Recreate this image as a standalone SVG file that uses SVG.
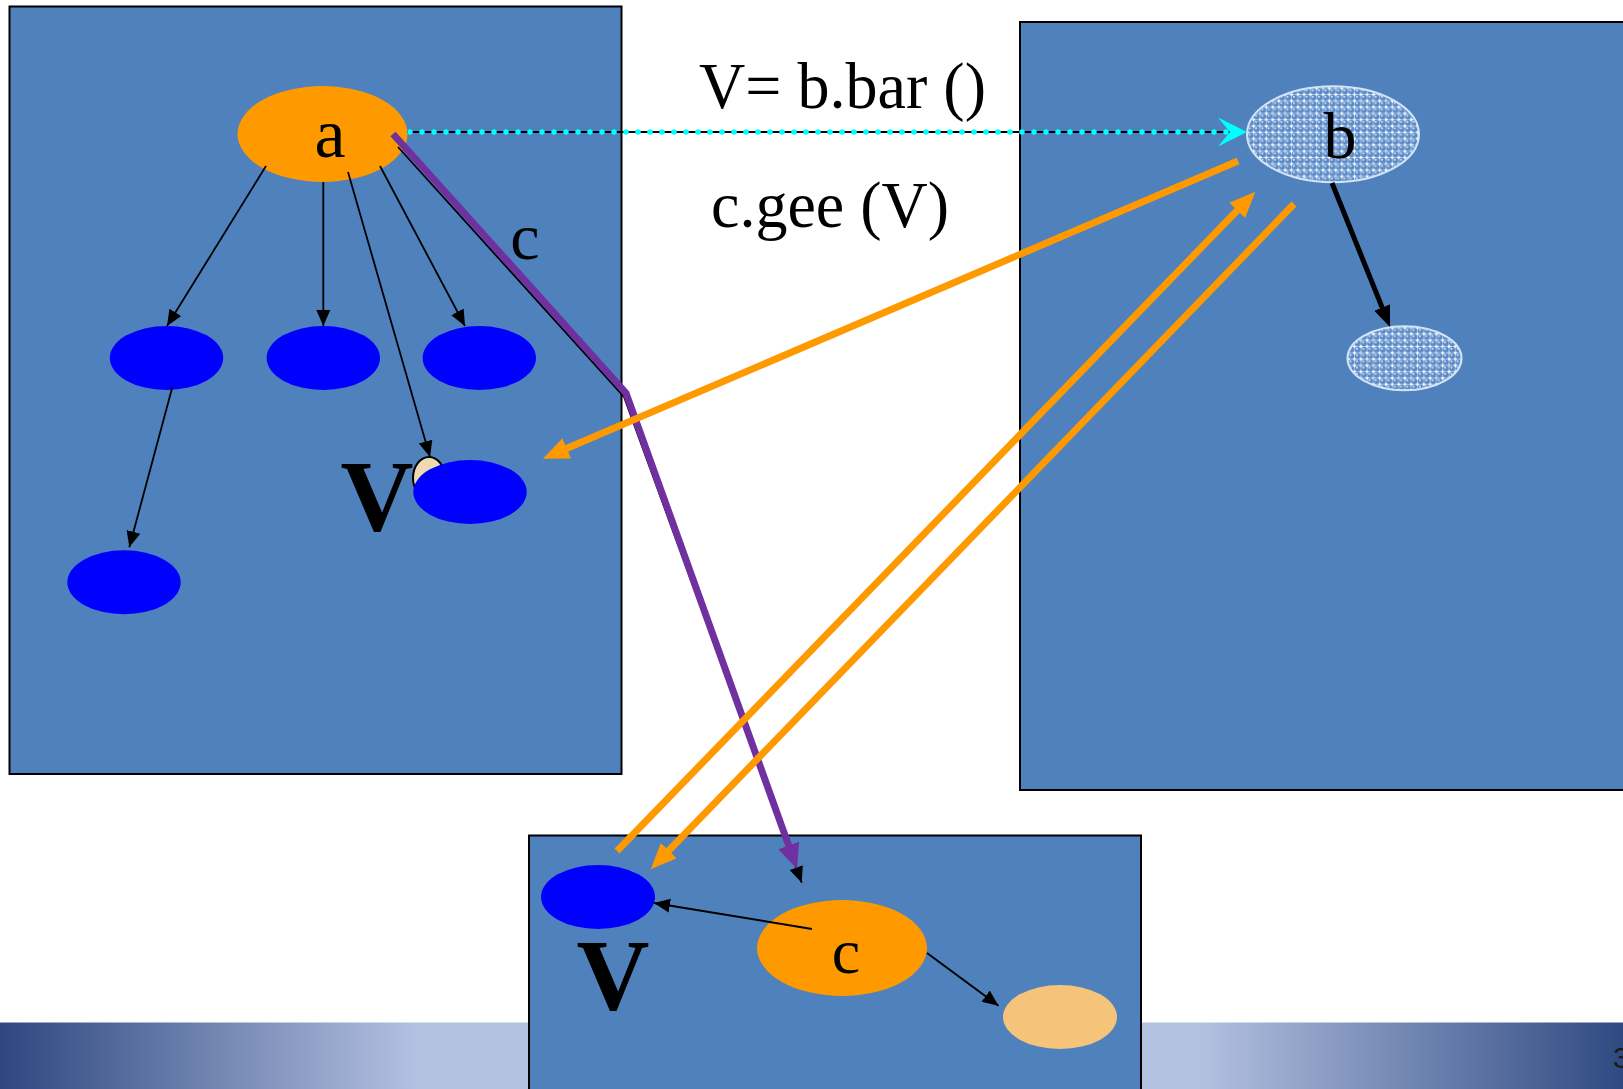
<svg xmlns="http://www.w3.org/2000/svg" width="1623" height="1089" viewBox="0 0 1623 1089">
<style>
.box{fill:#4F81BD;stroke:#000;stroke-width:2}
.blue{fill:#0000FF}
.org{fill:#FF9900}
.serif{font-family:"Liberation Serif","Times New Roman",serif;fill:#000}
.thin{fill:none;stroke:#000;stroke-width:1.8}
.oline{fill:none;stroke:#FF9900;stroke-width:7}
</style>
<defs>
<linearGradient id="foot" x1="0" y1="0" x2="1" y2="0">
<stop offset="0" stop-color="#2E4780"/>
<stop offset="0.257" stop-color="#B3C1E1"/>
<stop offset="0.739" stop-color="#B3C1E1"/>
<stop offset="1" stop-color="#2F4A82"/>
</linearGradient>
<pattern id="chk" patternUnits="userSpaceOnUse" width="12.6" height="12.6">
<rect width="12.6" height="12.6" fill="#b9d0ec"/>
<rect x="5.3" y="0" width="2" height="2" fill="#fff"/>
<rect x="0" y="5.3" width="2" height="2" fill="#fff"/>
<rect x="11.6" y="5.3" width="1" height="2" fill="#fff"/>
<rect x="5.3" y="11.6" width="2" height="1" fill="#fff"/>
<rect x="5.3" y="5.3" width="2" height="2" fill="#fff"/>
<circle cx="3.15" cy="3.15" r="2.9" fill="#5B8AC6"/>
<circle cx="9.45" cy="3.15" r="2.9" fill="#5B8AC6"/>
<circle cx="3.15" cy="9.45" r="2.9" fill="#5B8AC6"/>
<circle cx="9.45" cy="9.45" r="2.9" fill="#5B8AC6"/>
<circle cx="2.4" cy="2.3" r="1" fill="#d4e4f6"/>
<circle cx="8.7" cy="8.6" r="1" fill="#d4e4f6"/>
<circle cx="8.7" cy="2.3" r="1" fill="#d4e4f6"/>
<circle cx="2.4" cy="8.6" r="1" fill="#d4e4f6"/>
</pattern>
<marker id="ah" markerUnits="userSpaceOnUse" viewBox="0 -10 20 20" markerWidth="20" markerHeight="20" refX="16" refY="0" orient="auto"><path d="M0,-7 L16,0 L0,7 z" fill="#000"/></marker>
<marker id="ahk" markerUnits="userSpaceOnUse" viewBox="0 -10 22 20" markerWidth="22" markerHeight="20" refX="1" refY="0" orient="auto"><path d="M0,-8.5 L21,0 L0,8.5 z" fill="#000"/></marker>
<marker id="aho" markerUnits="userSpaceOnUse" viewBox="0 -12 27 24" markerWidth="27" markerHeight="24" refX="1" refY="0" orient="auto"><path d="M0,-11 L26,0 L0,11 z" fill="#FF9900"/></marker>
<marker id="ahp" markerUnits="userSpaceOnUse" viewBox="0 -12 26 24" markerWidth="26" markerHeight="24" refX="1" refY="0" orient="auto"><path d="M0,-11 L25,0 L0,11 z" fill="#7030A0"/></marker>
<marker id="ahc" markerUnits="userSpaceOnUse" viewBox="0 -15 30 30" markerWidth="30" markerHeight="30" refX="12" refY="0" orient="auto"><path d="M0,-14.5 L29,0 L0,14.5 L12,0 z" fill="#00FFFF"/></marker>
</defs>

<g id="footer">
<rect x="0" y="1022.5" width="1623" height="67" fill="url(#foot)"/>
<text x="1613" y="1068" font-family="Liberation Sans, Arial, sans-serif" font-size="29" fill="#1b1b1b">3</text>
</g>

<g id="box-a"><rect class="box" x="9.5" y="6.5" width="612" height="767.5"/></g>
<g id="box-b"><rect class="box" x="1020" y="22" width="610" height="768"/></g>
<g id="box-c"><rect class="box" x="529" y="835.5" width="612" height="260"/></g>

<g id="node-a">
<ellipse class="org" cx="322.5" cy="134" rx="85" ry="48"/>
<text class="serif" x="330" y="157" font-size="70" text-anchor="middle">a</text>
</g>
<g id="node-a1"><ellipse class="blue" cx="166.5" cy="358" rx="56.7" ry="32"/></g>
<g id="node-a2"><ellipse class="blue" cx="323.3" cy="358" rx="56.7" ry="32"/></g>
<g id="node-a3"><ellipse class="blue" cx="479.3" cy="358" rx="56.7" ry="32"/></g>
<g id="node-a11"><ellipse class="blue" cx="124" cy="582.3" rx="56.7" ry="32"/></g>
<g id="node-v">
<ellipse cx="429" cy="478" rx="16" ry="21" fill="#EFD9B0" stroke="#000" stroke-width="2"/>
<ellipse class="blue" cx="470" cy="492" rx="56.7" ry="32"/>
<text class="serif" x="377" y="531" font-size="101" font-weight="bold" text-anchor="middle">V</text>
</g>

<g id="node-b">
<ellipse cx="1333" cy="134.3" rx="86" ry="48" fill="url(#chk)" stroke="#d2e4f6" stroke-width="2"/>
<text class="serif" x="1340" y="158" font-size="66" text-anchor="middle">b</text>
</g>
<g id="node-b1"><ellipse cx="1404.5" cy="358.3" rx="57" ry="32" fill="url(#chk)" stroke="#d2e4f6" stroke-width="2"/></g>

<g id="node-cv">
<ellipse class="blue" cx="598" cy="897" rx="57" ry="32"/>
<text class="serif" x="613" y="1010" font-size="101" font-weight="bold" text-anchor="middle">V</text>
</g>
<g id="node-c">
<ellipse class="org" cx="842" cy="948" rx="85" ry="48"/>
<text class="serif" x="846" y="973" font-size="64" text-anchor="middle">c</text>
</g>
<g id="node-c1"><ellipse cx="1060" cy="1017" rx="57" ry="32" fill="#F5C37A"/></g>

<g id="connectors">
<path class="thin" d="M266,166 L167,326" marker-end="url(#ah)"/>
<path class="thin" d="M323.3,182 L323.3,326" marker-end="url(#ah)"/>
<path class="thin" d="M348,172 L430,457" marker-end="url(#ah)"/>
<path class="thin" d="M380,166 L465,326" marker-end="url(#ah)"/>
<path class="thin" d="M172.3,387.3 L129.3,547.3" marker-end="url(#ah)"/>
<path class="thin" d="M398,147 L624,397 L801.7,882.7" marker-end="url(#ah)"/>
<path d="M393,134 L626,393 L789,846.4" fill="none" stroke="#7030A0" stroke-width="7" stroke-linejoin="miter" marker-end="url(#ahp)"/>
<text class="serif" x="525" y="259" font-size="66" text-anchor="middle">c</text>

<path d="M407,132 H1230" fill="none" stroke="#000" stroke-width="2"/>
<path d="M410,132 H1230" fill="none" stroke="#00FFFF" stroke-width="5.5" stroke-dasharray="0 12" stroke-linecap="round" marker-end="url(#ahc)"/>
<text class="serif" x="699" y="108" font-size="65" textLength="287" lengthAdjust="spacingAndGlyphs">V= b.bar ()</text>
<text class="serif" x="711" y="227" font-size="65" textLength="238" lengthAdjust="spacingAndGlyphs">c.gee (V)</text>

<path d="M1332,183 L1382.5,308.4" fill="none" stroke="#000" stroke-width="5" marker-end="url(#ahk)"/>

<path class="oline" d="M1238,161 L565.9,448.8" marker-end="url(#aho)"/>
<path class="oline" d="M617,851 L1237.9,209.7" marker-end="url(#aho)"/>
<path class="oline" d="M1294,204 L668.1,851.3" marker-end="url(#aho)"/>

<path d="M812,929 L654,903" fill="none" stroke="#000" stroke-width="2" marker-end="url(#ah)"/>
<path d="M927,953 L998.5,1005.7" fill="none" stroke="#000" stroke-width="2" marker-end="url(#ah)"/>
</g>
</svg>
